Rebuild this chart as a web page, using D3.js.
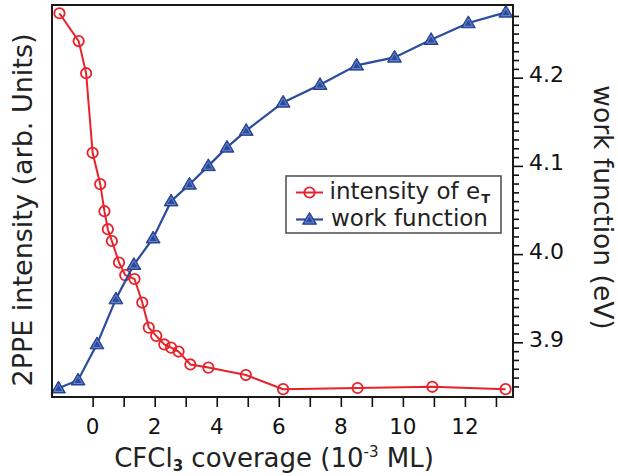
<!DOCTYPE html>
<html>
<head>
<meta charset="utf-8">
<script src="https://cdn.jsdelivr.net/npm/d3@7/dist/d3.min.js"></script>
<style>
  html, body { margin: 0; padding: 0; background: #fff; }
  svg { display: block; font-family: "DejaVu Sans", Verdana, sans-serif; }
</style>
</head>
<body>
<svg id="chart" width="618" height="476"></svg>
<script>
// ---- data ----
const intensityX = [-1.07, -0.45, -0.21, 0.0, 0.245, 0.38, 0.49, 0.62, 0.85, 1.05, 1.35, 1.6, 1.81, 2.05, 2.31, 2.53, 2.77, 3.15, 3.73, 4.94, 6.14, 8.54, 10.95, 13.31];
const intensityY = [0.979, 0.908, 0.826, 0.623, 0.543, 0.474, 0.428, 0.398, 0.343, 0.311, 0.301, 0.241, 0.177, 0.156, 0.134, 0.126, 0.116, 0.083, 0.075, 0.056, 0.020, 0.023, 0.026, 0.020];
const workX = [-1.1, -0.47, 0.14, 0.75, 1.33, 1.95, 2.53, 3.12, 3.73, 4.33, 4.95, 6.14, 7.33, 8.51, 9.73, 10.91, 12.11, 13.32];
const workY = [3.848, 3.857, 3.898, 3.949, 3.988, 4.018, 4.060, 4.079, 4.100, 4.121, 4.140, 4.172, 4.192, 4.214, 4.223, 4.243, 4.262, 4.274];
const xTickValues = [0, 1, 2, 3, 4, 5, 6, 7, 8, 9, 10, 11, 12, 13];
const xTickLabels = ["0", "2", "4", "6", "8", "10", "12"];
const yRightMajor = [3.9, 4.0, 4.1, 4.2];
const legendLabels = ["intensity of e", "work function"];

const W = 618, H = 476;
const L = 52, R = 513, T = 5, B = 397;
const red = "#e8222b", blue = "#2b4b9e";

const svg = d3.select("#chart");

const x = d3.scaleLinear().domain([-1.31, 13.55]).range([L, R]);
const yL = d3.scaleLinear().domain([0, 1]).range([B, B - 392]);
const yR = d3.scaleLinear().domain([3.838, 4.2824]).range([B, T]);

// ---- bottom axis ticks ----
const xAxis = d3.axisBottom(x).tickValues(xTickValues).tickSize(10).tickFormat("");
const gx = svg.append("g").attr("transform", `translate(0,${B})`).call(xAxis);
gx.select(".domain").remove();
gx.selectAll(".tick line").attr("stroke", "#111").attr("stroke-width", 1.6);

svg.append("g").selectAll("text").data(xTickLabels).join("text")
  .attr("x", d => x(+d)).attr("y", 433.5)
  .attr("text-anchor", "middle").attr("font-size", 21.5).attr("fill", "#111")
  .text(d => d);

// ---- right axis ticks ----
const minorVals = d3.range(385, 428).map(v => v / 100);
const yAxisR = d3.axisRight(yR).tickValues(minorVals)
  .tickSize(6).tickFormat("");
const gr = svg.append("g").attr("transform", `translate(${R},0)`).call(yAxisR);
gr.select(".domain").remove();
gr.selectAll(".tick line").attr("stroke", "#111").attr("stroke-width", 1.6)
  .attr("x2", d => yRightMajor.some(m => Math.abs(m - d) < 1e-6) ? 10 : 6);

svg.append("g").selectAll("text").data(yRightMajor).join("text")
  .attr("x", 529).attr("y", d => yR(d) + 4.5)
  .attr("font-size", 22).attr("fill", "#111")
  .text(d => d.toFixed(1));

// ---- series ----
const redPts = intensityX.map((v, i) => [v, intensityY[i]]);
const bluePts = workX.map((v, i) => [v, workY[i]]);

svg.append("path").datum(redPts)
  .attr("fill", "none").attr("stroke", red).attr("stroke-width", 2)
  .attr("d", d3.line().x(d => x(d[0])).y(d => yL(d[1])));
svg.append("g").selectAll("circle").data(redPts).join("circle")
  .attr("cx", d => x(d[0])).attr("cy", d => yL(d[1])).attr("r", 5.2)
  .attr("fill", "none").attr("stroke", red).attr("stroke-width", 1.8);

svg.append("path").datum(bluePts)
  .attr("fill", "none").attr("stroke", blue).attr("stroke-width", 2.2)
  .attr("d", d3.line().x(d => x(d[0])).y(d => yR(d[1])));

function tri(cx, cy, s) {
  const h = s * 1.7;
  return `M${cx},${cy - h * 0.6}L${cx + s},${cy + h * 0.4}L${cx - s},${cy + h * 0.4}Z`;
}
function drawTri(g, cx, cy) {
  g.append("path").attr("d", tri(cx, cy, 7)).attr("fill", blue).attr("stroke", "#23418f").attr("stroke-width", 1);
  g.append("path").attr("d", tri(cx, cy + 0.3, 4.4)).attr("fill", "none").attr("stroke", "#6f88c8").attr("stroke-width", 1);
}
const gTri = svg.append("g");
bluePts.forEach(d => drawTri(gTri, x(d[0]), yR(d[1])));

// ---- frame ----
svg.append("rect").attr("x", L).attr("y", T).attr("width", R - L).attr("height", B - T)
  .attr("fill", "none").attr("stroke", "#1a1a1a").attr("stroke-width", 2);

// ---- legend ----
const lg = svg.append("g");
lg.append("rect").attr("x", 286).attr("y", 176).attr("width", 215).attr("height", 57)
  .attr("fill", "#fff").attr("stroke", "#555").attr("stroke-width", 1.6);
lg.append("line").attr("x1", 296).attr("x2", 323).attr("y1", 192.5).attr("y2", 192.5)
  .attr("stroke", red).attr("stroke-width", 2);
lg.append("circle").attr("cx", 309.5).attr("cy", 192.5).attr("r", 5.2)
  .attr("fill", "none").attr("stroke", red).attr("stroke-width", 1.8);
lg.append("line").attr("x1", 296).attr("x2", 323).attr("y1", 219.5).attr("y2", 219.5)
  .attr("stroke", blue).attr("stroke-width", 2.2);
drawTri(lg, 309.5, 219.5);
const t1 = lg.append("text").attr("x", 329.5).attr("y", 198.5).attr("font-size", 23).attr("fill", "#222");
t1.append("tspan").text(legendLabels[0]);
t1.append("tspan").attr("font-size", 13).attr("font-weight", "bold").attr("dy", 4).attr("dx", 1).text("T");
lg.append("text").attr("x", 331).attr("y", 225.5).attr("font-size", 23).attr("fill", "#222").text(legendLabels[1]);

// ---- axis titles ----
const xt = svg.append("text").attr("x", 274).attr("y", 466.5).attr("text-anchor", "middle")
  .attr("font-size", 26).attr("fill", "#222");
xt.append("tspan").text("CFCl");
xt.append("tspan").attr("font-size", 15).attr("font-weight", "bold").attr("dy", 4).text("3");
xt.append("tspan").attr("dy", -4).text(" coverage (10");
xt.append("tspan").attr("font-size", 15).attr("dy", -10).text("-3");
xt.append("tspan").attr("dy", 10).text(" ML)");

svg.append("text").attr("transform", "translate(31.5,210) rotate(-90)")
  .attr("text-anchor", "middle").attr("font-size", 27).attr("fill", "#222")
  .text("2PPE intensity (arb. Units)");

svg.append("text").attr("transform", "translate(594,207.5) rotate(90)")
  .attr("text-anchor", "middle").attr("font-size", 26.5).attr("fill", "#222")
  .text("work function (eV)");
</script>
</body>
</html>
